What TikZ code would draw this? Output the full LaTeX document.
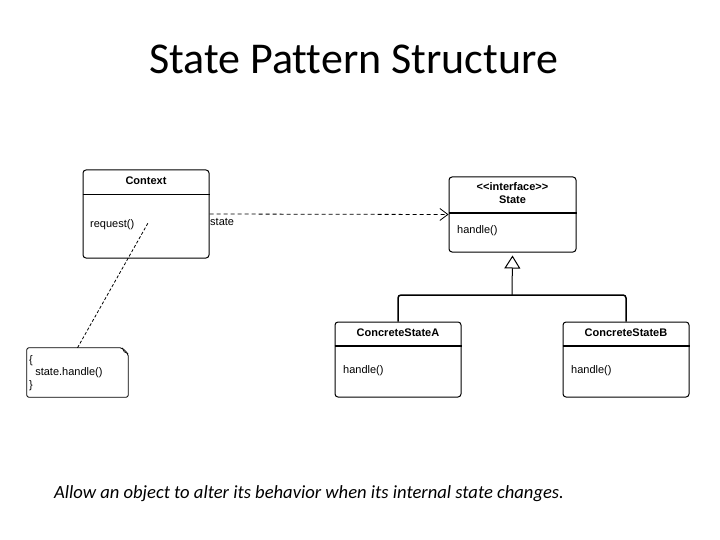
\documentclass[tikz,border=0pt]{standalone}
\usepackage{fontspec}
\setmainfont[Ligatures=NoCommon]{Carlito}
\newfontfamily\umlfont{Liberation Sans}
\usetikzlibrary{positioning,arrows.meta}

\begin{document}
\begin{tikzpicture}[x=1pt,y=-1pt,
  umlbox/.style={draw,rounded corners=3pt,line width=1pt,minimum width=126pt,inner sep=0pt},
  umlhead/.style={font=\umlfont\bfseries\fontsize{11}{12}\selectfont,inner sep=0pt},
  umltxt/.style={font=\umlfont\fontsize{11}{12.5}\selectfont,inner sep=0pt},
  sepline/.style={line width=1.3pt}]
\useasboundingbox (0,0) rectangle (720,540);
\node[font=\fontsize{44}{50}\selectfont,anchor=base] (title) at (353.5,74) {State Pattern Structure};
% context class
\node[umlbox,minimum height=88pt] (context) at (146,214) {};
\draw[line width=0.8pt] (context.west |- 0,194) -- (context.east |- 0,194);
\node[umlhead] (contextname) at (146,181) {Context};
\node[umltxt,anchor=west] (request) at (90,225) {request()};
% state interface
\node[umlbox,minimum width=127pt,minimum height=75pt] (state) at (512.5,214.5) {};
\draw[sepline] (state.west |- 0,213) -- (state.east |- 0,213);
\node[umlhead] (stereo) at (512.5,187) {{<}{<}interface{>}{>}};
\node[umlhead] (statename) at (512.5,200) {State};
\node[umltxt,anchor=west] (statehandle) at (457,231) {handle()};
% concrete states
\node[umlbox,minimum height=75pt] (concreteA) at (398,359.5) {};
\draw[sepline] (concreteA.west |- 0,346) -- (concreteA.east |- 0,346);
\node[umlhead] (nameA) at (398,333) {ConcreteStateA};
\node[umltxt,anchor=west] (handleA) at (343,371) {handle()};
\node[umlbox,minimum height=75pt] (concreteB) at (626,359.5) {};
\draw[sepline] (concreteB.west |- 0,346) -- (concreteB.east |- 0,346);
\node[umlhead] (nameB) at (626,333) {ConcreteStateB};
\node[umltxt,anchor=west] (handleB) at (571,371) {handle()};
% note
\node[minimum width=101pt,minimum height=49pt,inner sep=0pt] (note) at (77.5,372.5) {};
\draw[line width=0.8pt,rounded corners=2pt] (note.north west) -- ([xshift=-6pt]note.north east)
  -- ([yshift=-6pt]note.north east) -- (note.south east) -- (note.south west) -- cycle;
\draw[line width=0.6pt] ([xshift=-6pt]note.north east) -- ([xshift=-4pt,yshift=-4pt]note.north east)
  -- ([yshift=-6pt]note.north east);
\node[umltxt,anchor=north west,align=left] (notetext) at (29,355) {\{\\\ \ state.handle()\\\}};
% connectors
\coordinate (reqend) at (148,223);
\draw[dashed,line width=0.8pt,dash pattern=on 3pt off 2pt] (note.north) -- (reqend);
\draw[dashed,line width=0.8pt,dash pattern=on 4pt off 3pt,-{Straight Barb[length=8pt,width=12pt]}] (context.east) -- (state.west);
\node[umltxt,anchor=west] (statelbl) at (210,222) {state};
\coordinate (fork) at (512,295);
\draw[line width=1.5pt,rounded corners=3pt] (concreteA.north) |- (fork) -| (concreteB.north);
\draw[line width=1pt,-{Triangle[open,length=13pt,width=16pt]}] (fork) -- ([yshift=-3pt]state.south);
\node[font=\itshape\fontsize{18.6}{22}\selectfont,anchor=base] (caption) at (309,498) {Allow an object to alter its behavior when its internal state changes.};
\end{tikzpicture}
\end{document}
